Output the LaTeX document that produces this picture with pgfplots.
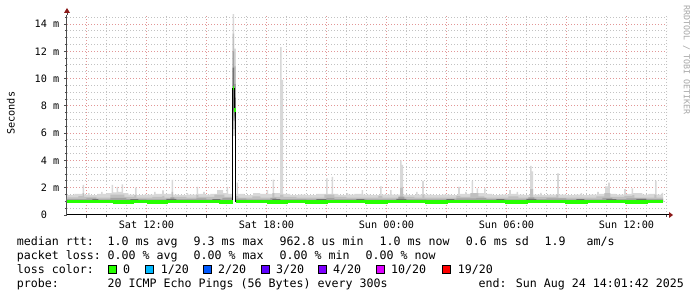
\documentclass[border=0pt]{standalone}
\usepackage{pgfplots}
\pgfplotsset{compat=1.18}
\usepackage{fontspec}
\setmainfont{DejaVu Sans Mono}
\newfontfamily\mono{DejaVu Sans Mono}
\usetikzlibrary{arrows.meta}
\definecolor{smokeA}{HTML}{D8D8D8}
\definecolor{smokeB}{HTML}{C0C0C0}
\definecolor{smokeC}{HTML}{A2A2A2}
\definecolor{smokeD}{HTML}{727272}
\definecolor{medgreen}{HTML}{26FF00}
\definecolor{mgrid}{HTML}{E29696}
\definecolor{ngrid}{HTML}{C2C2C2}
\definecolor{arrowred}{HTML}{8B1A1A}
\definecolor{lcA}{HTML}{26FF00}
\definecolor{lcB}{HTML}{00B8FF}
\definecolor{lcC}{HTML}{0059FF}
\definecolor{lcD}{HTML}{5E00FF}
\definecolor{lcE}{HTML}{7E00FF}
\definecolor{lcF}{HTML}{DD00FF}
\definecolor{lcG}{HTML}{FF0000}
\newcommand{\legfont}{\mono\fontsize{11.63}{14}\selectfont}
\newcommand{\axfont}{\mono\fontsize{10.2}{12}\selectfont}
\begin{document}
\begin{tikzpicture}
\useasboundingbox (0pt,0pt) rectangle (697pt,297pt);
\fill[white] (0pt,0pt) rectangle (697pt,297pt);
\begin{axis}[
  name=ax,
  at={(67pt,82pt)}, anchor=south west,
  scale only axis, width=600pt, height=200pt,
  xmin=8.028, xmax=38.028, ymin=0, ymax=14.66,
  axis x line=bottom, axis y line=left,
  x axis line style={black, line width=1pt, -},
  y axis line style={black!70, line width=1pt, -},
  xtick={9,12,15,18,21,24,27,30,33,36},
  xticklabels={{},{Sat 12:00},{},{Sat 18:00},{},{Sun 00:00},{},{Sun 06:00},{},{Sun 12:00}},
  minor xtick={10,11,13,14,16,17,19,20,22,23,25,26,28,29,31,32,34,35,37,38},
  ytick={0,2,4,6,8,10,12,14},
  yticklabels={{0\phantom{~m}},{2 m},{4 m},{6 m},{8 m},{10 m},{12 m},{14 m}},
  minor ytick={0.5,1,1.5,2.5,3,3.5,4.5,5,5.5,6.5,7,7.5,8.5,9,9.5,10.5,11,11.5,12.5,13,13.5,14.5},
  grid=both,
  major grid style={mgrid, line width=1pt, dash pattern=on 1pt off 2pt},
  minor grid style={ngrid, line width=1pt, dash pattern=on 1pt off 2pt},
  tick align=outside,
  major tick length=3pt, minor tick length=2pt,
  every tick/.style={black!70, line width=0.8pt},
  tick label style={font=\axfont, inner sep=0pt},
  xticklabel style={anchor=north, yshift=-3pt},
  yticklabel style={anchor=east, xshift=-4.5pt},
]
% light smoke
\addplot[fill=smokeA, draw=none, const plot] coordinates {
(8.028,0.95) (8.028,1.45) (8.40,1.55) (8.81,2.2) (8.89,1.5) (9.08,1.6) (9.16,1.45) (9.55,1.55) (9.73,1.7) (9.81,1.55) (10.0,1.6) (10.26,2.2) (10.34,1.65) (10.51,2.07) (10.59,1.7) (10.76,2.25) (10.84,1.6) (11.1,1.5) (11.43,2.0) (11.51,1.45) (11.9,1.5) (12.38,1.7) (12.46,1.55) (12.79,1.8) (12.87,1.55) (13.26,2.57) (13.34,1.5) (13.6,1.45) (14.01,1.6) (14.09,1.5) (14.51,2.07) (14.59,1.55) (14.84,1.7) (14.92,1.5) (15.2,1.55) (15.53,1.83) (15.83,1.6) (16.01,2.07) (16.09,1.55) (16.303,0.95)
} -- cycle;
\addplot[fill=smokeA, draw=none, const plot] coordinates {
(16.303,5.8) (16.303,14.8) (16.386,12.2) (16.47,12.2) (16.47,5.8)
} -- cycle;
\addplot[fill=smokeA, draw=none, const plot] coordinates {
(16.47,0.95) (16.47,1.55) (16.51,2.37) (16.59,1.55) (16.9,1.45) (17.33,1.6) (17.68,1.55) (18.01,1.83) (18.09,1.55) (18.31,2.6) (18.39,1.6) (18.678,12.3) (18.76,9.9) (18.84,1.55) (19.2,1.45) (19.6,1.5) (20.0,1.45) (20.5,1.55) (20.98,2.7) (21.06,1.55) (21.26,2.8) (21.34,1.55) (21.6,1.45) (22.01,1.6) (22.09,1.5) (22.4,1.55) (22.76,1.83) (22.84,1.5) (23.2,1.45) (23.68,2.1) (23.76,1.5) (24.18,1.83) (24.26,1.5) (24.68,4.0) (24.76,3.67) (24.84,1.5) (25.1,1.45) (25.48,1.7) (25.56,1.5) (25.79,2.5) (25.87,1.5) (26.3,1.45) (26.8,1.5) (27.2,1.45) (27.59,2.07) (27.67,1.55) (27.93,1.7) (28.01,1.55) (28.26,2.5) (28.34,1.6) (28.51,1.95) (28.59,1.6) (28.88,1.95) (28.96,1.55) (29.3,1.45) (29.7,1.5) (30.14,1.83) (30.22,1.55) (30.51,1.7) (30.59,1.5) (30.9,1.45) (31.18,3.6) (31.26,3.2) (31.34,1.5) (31.68,1.63) (31.76,1.45) (32.1,1.5) (32.54,3.05) (32.62,1.5) (33.0,1.45) (33.4,1.5) (33.71,1.6) (33.79,1.45) (34.2,1.5) (34.54,1.7) (34.62,1.55) (34.93,2.1) (35.09,2.37) (35.17,1.55) (35.5,1.5) (35.89,1.9) (35.97,1.55) (36.26,1.95) (36.34,1.6) (36.8,1.5) (37.1,1.55) (37.43,2.5) (37.51,1.5) (37.76,1.63) (37.83,0.95)
} -- cycle;
% mid smoke
\addplot[fill=smokeB, draw=none, const plot] coordinates {
(8.028,0.95) (8.028,1.3) (8.6,1.38) (8.81,1.6) (8.89,1.32) (9.5,1.28) (10.2,1.5) (10.9,1.32) (11.4,1.45) (11.5,1.28) (12.3,1.32) (12.8,1.4) (12.9,1.28) (13.26,1.7) (13.34,1.32) (14.0,1.28) (14.5,1.45) (14.6,1.32) (15.4,1.5) (15.9,1.32) (16.303,0.95)
} -- cycle;
\addplot[fill=smokeB, draw=none, const plot] coordinates {
(16.303,6.3) (16.303,13.3) (16.386,10.9) (16.47,10.9) (16.47,6.3)
} -- cycle;
\addplot[fill=smokeB, draw=none, const plot] coordinates {
(16.47,0.95) (16.47,1.38) (16.6,1.28) (17.3,1.36) (17.7,1.28) (18.3,1.6) (18.4,1.32) (18.68,1.5) (18.85,1.32) (19.5,1.28) (20.9,1.5) (21.4,1.32) (22.0,1.28) (23.6,1.4) (23.8,1.28) (24.68,2.0) (24.84,1.32) (25.4,1.28) (25.8,1.5) (25.9,1.28) (27.5,1.4) (27.7,1.32) (28.2,1.6) (28.6,1.36) (28.9,1.28) (30.1,1.36) (30.6,1.28) (31.18,1.9) (31.34,1.32) (32.5,1.5) (32.6,1.28) (34.5,1.36) (34.9,1.6) (35.2,1.32) (35.9,1.4) (36.3,1.45) (36.4,1.28) (37.4,1.5) (37.5,1.28) (37.83,0.95)
} -- cycle;
% darker smoke
\addplot[fill=smokeC, draw=none, const plot] coordinates {
(8.028,0.95) (8.028,1.17) (9.0,1.22) (9.5,1.15) (10.2,1.25) (11.0,1.17) (12.0,1.15) (13.2,1.3) (13.4,1.17) (14.5,1.22) (15.0,1.15) (15.8,1.25) (16.303,0.95)
} -- cycle;
\addplot[fill=smokeC, draw=none, const plot] coordinates {
(16.303,7.0) (16.303,12.0) (16.386,9.6) (16.47,9.6) (16.47,6.8)
} -- cycle;
\addplot[fill=smokeC, draw=none, const plot] coordinates {
(16.47,0.95) (16.47,1.2) (17.0,1.15) (18.2,1.25) (18.5,1.17) (20.0,1.15) (21.0,1.25) (21.4,1.17) (23.0,1.15) (24.6,1.35) (24.9,1.17) (26.0,1.15) (27.5,1.22) (28.5,1.25) (29.0,1.17) (30.0,1.15) (31.1,1.3) (31.4,1.17) (32.0,1.22) (33.0,1.15) (34.8,1.25) (35.3,1.17) (36.0,1.22) (37.0,1.17) (37.83,0.95)
} -- cycle;
% darkest smoke
\addplot[fill=smokeD, draw=none, const plot] coordinates {
(8.028,0.95) (8.028,1.05) (9.3,1.17) (9.6,1.05) (11.2,1.16) (11.6,1.05) (13.0,1.18) (13.5,1.05) (15.3,1.17) (15.7,1.05) (16.303,0.95)
} -- cycle;
\addplot[fill=smokeD, draw=none, const plot] coordinates {
(16.303,8.0) (16.303,10.8) (16.386,8.6) (16.47,8.6) (16.47,6.6)
} -- cycle;
\addplot[fill=smokeD, draw=none, const plot] coordinates {
(16.47,0.95) (16.47,1.05) (18.3,1.17) (18.7,1.05) (20.5,1.16) (21.0,1.05) (22.5,1.17) (22.9,1.05) (24.5,1.18) (25.0,1.05) (27.0,1.16) (27.4,1.05) (29.5,1.17) (29.9,1.05) (31.0,1.18) (31.5,1.05) (33.5,1.16) (33.9,1.05) (35.0,1.17) (35.5,1.05) (36.5,1.16) (37.0,1.05) (37.83,0.95)
} -- cycle;
% median line (black)
\addplot[black, line width=1pt, const plot] coordinates {
(8.028,1.0) (8.7,0.98) (9.6,1.0) (10.4,0.97) (11.3,0.99) (12.1,0.97) (13.0,1.0) (13.9,0.98) (14.8,0.99) (15.7,0.97) (16.303,9.3) (16.386,7.7) (16.47,1.0) (17.2,0.98) (18.1,0.97) (19.0,0.99) (20.0,0.97) (21.0,1.0) (22.0,0.98) (23.0,0.97) (24.0,0.99) (25.0,0.98) (26.0,0.97) (27.0,0.99) (28.0,0.98) (29.0,1.0) (30.0,0.97) (31.0,0.99) (32.0,0.98) (33.0,0.97) (34.0,0.99) (35.0,0.98) (36.0,0.97) (37.0,0.99) (37.83,0.99)
};
% loss colour band (0 loss)
\addplot[medgreen, line width=3.6pt, const plot] coordinates {
(8.028,1.0) (8.7,0.98) (9.6,1.0) (10.4,0.97) (11.3,0.99) (12.1,0.97) (13.0,1.0) (13.9,0.98) (14.8,0.99) (15.7,0.97) (16.303,0.97)
};
\addplot[medgreen, line width=3.6pt] coordinates {(16.303,9.3) (16.386,9.3)};
\addplot[medgreen, line width=3.6pt] coordinates {(16.386,7.7) (16.47,7.7)};
\addplot[medgreen, line width=3.6pt, const plot] coordinates {
(16.47,1.0) (17.2,0.98) (18.1,0.97) (19.0,0.99) (20.0,0.97) (21.0,1.0) (22.0,0.98) (23.0,0.97) (24.0,0.99) (25.0,0.98) (26.0,0.97) (27.0,0.99) (28.0,0.98) (29.0,1.0) (30.0,0.97) (31.0,0.99) (32.0,0.98) (33.0,0.97) (34.0,0.99) (35.0,0.98) (36.0,0.97) (37.0,0.99) (37.83,0.99)
};
\end{axis}
% axis arrows
\draw[black, line width=1pt] (ax.south east) -- ++(2pt,0pt);
\fill[arrowred] ([xshift=2pt]ax.south east) -- ++(0pt,3pt) -- ++(4pt,-3pt) -- ++(-4pt,-3pt) -- cycle;
\draw[black!70, line width=1pt] (ax.north west) -- ++(0pt,2pt);
\fill[arrowred] ([yshift=2pt]ax.north west) -- ++(-3pt,0pt) -- ++(3pt,5pt) -- ++(3pt,-5pt) -- cycle;
\node[rotate=90, font=\axfont, anchor=center] at (10.8pt,183.7pt) {Seconds};
\node[rotate=-90, font=\mono\fontsize{8.3}{10}\selectfont, text=black!35, anchor=center] at (686.5pt,237pt) {RRDTOOL / TOBI OETIKER};
% legend text
\begin{scope}[every node/.style={anchor=base west, inner sep=0pt, font=\legfont}]
\node at (16.7pt,51.5pt) {median rtt:};
\node at (107.3pt,51.5pt) {1.0 ms avg};
\node at (193.3pt,51.5pt) {9.3 ms max};
\node at (279.3pt,51.5pt) {962.8 us min};
\node at (379.3pt,51.5pt) {1.0 ms now};
\node at (465.6pt,51.5pt) {0.6 ms sd};
\node at (544.3pt,51.5pt) {1.9};
\node at (586.3pt,51.5pt) {am/s};
\node at (16.7pt,37.5pt) {packet loss:};
\node at (107.3pt,37.5pt) {0.00 \% avg};
\node at (193.3pt,37.5pt) {0.00 \% max};
\node at (279.3pt,37.5pt) {0.00 \% min};
\node at (365.3pt,37.5pt) {0.00 \% now};
\node at (16.7pt,23.5pt) {loss color:};
\node at (123pt,23.5pt) {0};
\node at (160.7pt,23.5pt) {1/20};
\node at (218pt,23.5pt) {2/20};
\node at (276pt,23.5pt) {3/20};
\node at (333pt,23.5pt) {4/20};
\node at (391pt,23.5pt) {10/20};
\node at (457.7pt,23.5pt) {19/20};
\node at (16.7pt,9.5pt) {probe:};
\node at (107.3pt,9.5pt) {20 ICMP Echo Pings (56 Bytes) every 300s};
\node at (478.3pt,9.5pt) {end: Sun Aug 24 14:01:42 2025};
\end{scope}
\begin{scope}[line width=0.8pt]
\draw[fill=lcA] (108pt,24pt) rectangle ++(8pt,8pt);
\draw[fill=lcB] (145.7pt,24pt) rectangle ++(8pt,8pt);
\draw[fill=lcC] (203pt,24pt) rectangle ++(8pt,8pt);
\draw[fill=lcD] (261pt,24pt) rectangle ++(8pt,8pt);
\draw[fill=lcE] (318pt,24pt) rectangle ++(8pt,8pt);
\draw[fill=lcF] (376pt,24pt) rectangle ++(8pt,8pt);
\draw[fill=lcG] (442.7pt,24pt) rectangle ++(8pt,8pt);
\end{scope}
\end{tikzpicture}
\end{document}
